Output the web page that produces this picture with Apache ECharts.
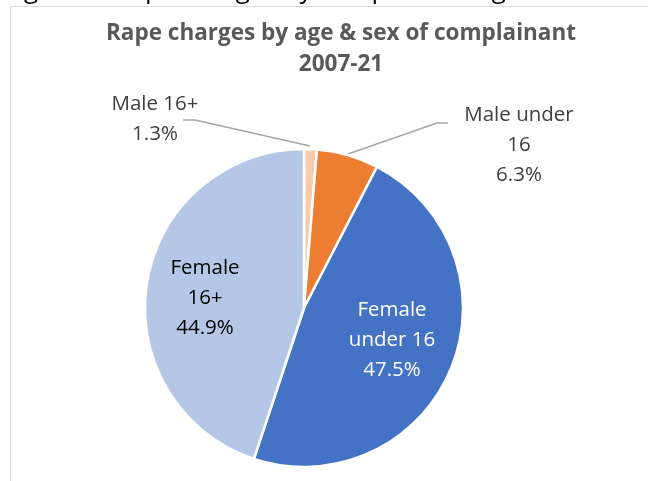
<!DOCTYPE html>
<html>
<head>
<meta charset="utf-8">
<script src="https://cdn.jsdelivr.net/npm/echarts@6/dist/echarts.min.js"></script>
<style>
html,body{margin:0;padding:0;background:#fff;}
#chart{width:648px;height:481px;}
</style>
</head>
<body>
<div id="chart"></div>
<script>
const categories = ['Male 16+', 'Male under 16', 'Female under 16', 'Female 16+'];
const labelNames = ['Male 16+', 'Male under\n16', 'Female\nunder 16', 'Female\n16+'];
const values = [1.3, 6.3, 47.5, 44.9];
const colors = ['#F8CBAD', '#ED7D31', '#4472C4', '#B4C7E7'];
const labelColors = ['#404040', '#404040', '#ffffff', '#000000'];
const titleLines = ['Rape charges by age & sex of complainant', '2007-21'];
const figureCaption = 'Figure 5: Rape charges by complainant age and sex';

const labelPos = [
  {x: 155, y: 119, line: [[310, 146], [195, 120], [183, 120]]},
  {x: 519, y: 145, line: [[348, 154], [437, 123], [448, 123]]},
  {x: 392, y: 340},
  {x: 205, y: 298}
];

const chart = echarts.init(document.getElementById('chart'), null, {renderer: 'canvas'});
chart.setOption({
  animation: false,
  backgroundColor: '#ffffff',
  title: {
    text: titleLines.join('\n'),
    left: 336,
    top: 13,
    textAlign: 'center',
    textStyle: {fontFamily: 'Open Sans', fontWeight: 'bold', fontSize: 22.5, color: '#595959', lineHeight: 31}
  },
  graphic: [
    {type: 'rect', shape: {x: 10.5, y: 6.5, width: 800, height: 600}, style: {fill: 'none', stroke: '#D9D9D9', lineWidth: 1}, z: -1},
    {type: 'text', x: 4, y: -22, style: {text: figureCaption, fontFamily: 'Open Sans', fontSize: 26, fill: '#000000'}}
  ],
  series: [{
    type: 'pie',
    center: [304, 308],
    radius: [0, 159],
    startAngle: 90,
    clockwise: true,
    avoidLabelOverlap: false,
    itemStyle: {borderColor: '#ffffff', borderWidth: 2.5},
    data: categories.map((c, i) => ({
      name: c,
      value: values[i],
      itemStyle: {color: colors[i]},
      label: {color: labelColors[i]},
      labelLine: {show: i < 2}
    })),
    label: {
      show: true,
      position: 'outside',
      formatter: p => labelNames[p.dataIndex] + '\n' + values[p.dataIndex].toFixed(1) + '%',
      fontFamily: 'Open Sans',
      fontSize: 20.5,
      lineHeight: 30,
      align: 'center'
    },
    labelLine: {show: true, lineStyle: {color: '#A6A6A6', width: 1.5}},
    labelLayout: function (params) {
      const p = labelPos[params.dataIndex];
      const r = {x: p.x, y: p.y, align: 'center', verticalAlign: 'middle'};
      if (p.line) r.labelLinePoints = p.line;
      return r;
    }
  }]
});
</script>
</body>
</html>
